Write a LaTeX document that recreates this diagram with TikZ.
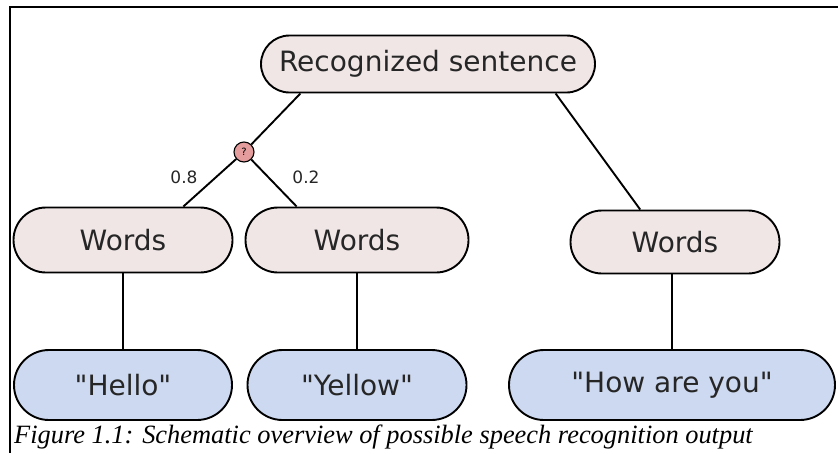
\documentclass[tikz,border=0pt]{standalone}
\usepackage{fontspec}
\setmainfont{DejaVu Sans}[Ligatures=TeXOff]
\newfontfamily\capfont{Liberation Serif}
\usetikzlibrary{shapes.misc}
\definecolor{wordfill}{HTML}{F0E6E6}
\definecolor{textfill}{HTML}{CDD9F0}
\definecolor{qfill}{HTML}{E49C9C}
\begin{document}
\begin{tikzpicture}[x=1pt,y=-1pt,
  pill/.style={draw=black,line width=1.9pt,rounded rectangle,inner sep=0pt,
    font=\fontsize{28}{32}\selectfont,text=black!85},
  wordbox/.style={pill,fill=wordfill},
  textbox/.style={pill,fill=textfill},
  link/.style={line width=1.9pt},
  prob/.style={font=\fontsize{17}{19}\selectfont,text=black!85}]
\useasboundingbox (0,0) rectangle (838,453);
% frame edges
\draw[line width=1.6pt] (838,7) -- (10,7) -- (10,453);
% nodes
\node[wordbox,minimum width=334,minimum height=57] (rs) at (428,64) {Recognized sentence};
\node[wordbox,minimum width=219,minimum height=65] (w1) at (123,240) {Words};
\node[wordbox,minimum width=223,minimum height=65] (w2) at (357,240) {Words};
\node[wordbox,minimum width=209,minimum height=63] (w3) at (675,242) {Words};
\node[textbox,minimum width=218,minimum height=70] (hello) at (123,385) {"Hello"};
\node[textbox,minimum width=219,minimum height=70] (yellow) at (357,385) {"Yellow"};
\node[textbox,minimum width=326,minimum height=70] (how) at (672,385) {"How are you"};
\node[circle,draw=black,line width=1.1pt,fill=qfill,minimum size=20,inner sep=0pt,
  font=\fontsize{10}{11}\selectfont] (q) at (244,152) {?};
% connectors
\draw[link] (rs.193) -- (q);
\draw[link] (q) -- (w1.29);
\draw[link] (q) -- (w2.151.6);
\draw[link] (rs.-13.6) -- (w3.137.6);
\draw[link] (w1.south -| hello.north) -- (hello.north);
\draw[link] (w2.south -| yellow.north) -- (yellow.north);
\draw[link] (w3.south -| how.north) -- (how.north);
% branch probabilities
\node[prob] (p8) at (184,177) {0.8};
\node[prob] (p2) at (306,177) {0.2};
% caption
\node[anchor=base west,inner sep=0pt,font=\capfont\itshape\fontsize{26.4}{30}\selectfont] (cap) at (14,443)
  {Figure 1.1: Schematic overview of possible speech recognition output};
\end{tikzpicture}
\end{document}
